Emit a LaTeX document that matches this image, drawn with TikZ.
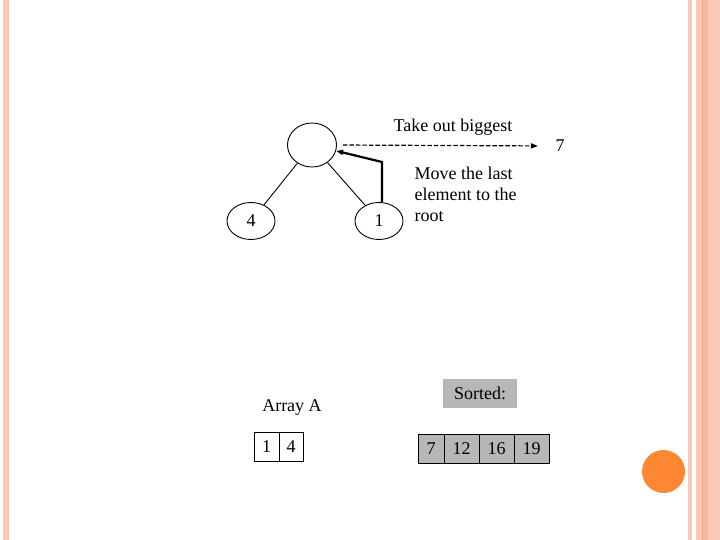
\documentclass[tikz,border=0pt]{standalone}
\usepackage{fontspec}
\setmainfont{Liberation Serif}
\usetikzlibrary{shapes.geometric,positioning,arrows.meta}
\definecolor{stripe}{RGB}{250,200,180}
\definecolor{stripedark}{RGB}{240,165,130}
\definecolor{dot}{RGB}{253,135,50}
\definecolor{cellgray}{RGB}{183,183,183}

\begin{document}
\begin{tikzpicture}[x=1pt,y=-1pt,
  every node/.style={font=\fontsize{18}{21}\selectfont},
  heapnode/.style={ellipse,draw,line width=0.9pt,inner sep=0pt},
  cell/.style={draw,line width=0.9pt,minimum height=29pt,inner sep=0pt,outer sep=0pt},
  edge/.style={line width=0.9pt},
  tip/.style={-{Triangle[length=7pt,width=5pt]}}]
\useasboundingbox (0,0) rectangle (720,540);

\fill[stripe] (3,0) rectangle (9,540);
\fill[stripe] (688,0) rectangle (692,540);
\fill[stripe] (696,0) rectangle (720,540);
\fill[stripedark!40!stripe] (702,0) rectangle (708,540);
\draw[stripedark,line width=0.7pt] (702,0) -- (702,540);
\fill[dot] (663.5,471.5) circle (21.5);

\node[heapnode,minimum width=49pt,minimum height=44pt] (root) at (312,145) {};
\node[heapnode,minimum width=48pt,minimum height=37pt] (four) at (251,221) {4};
\node[heapnode,minimum width=48pt,minimum height=37pt] (one) at (379,221) {1};
\draw[edge] (root) -- (four);
\draw[edge] (root) -- (one);

\node (take) at (453,127) {Take out biggest};
\node (seven) at (560,146) {7};
\draw[line width=1.2pt,dash pattern=on 4.5pt off 2pt,tip,shorten <=6pt,shorten >=14pt] (root.east) -- (seven.west);

\coordinate (bend) at (382,162);
\draw[line width=2.2pt,tip] (one.north -| bend) -- (bend) -- (root);
\node[align=left,anchor=west] (move) at (411,194) {Move the last\\element to the\\root};

\node (arrayA) at (292,407) {Array A};
\node[cell,minimum width=25pt] (a1) at (266.5,447) {1};
\node[cell,minimum width=24pt,right=0pt of a1] (a2) {4};

\node[fill=cellgray,minimum width=74pt,minimum height=29pt] (sorted) at (480,393.5) {Sorted:};
\node[cell,fill=cellgray,minimum width=26pt] (s1) at (431,448.5) {7};
\node[cell,fill=cellgray,minimum width=35pt,right=0pt of s1] (s2) {12};
\node[cell,fill=cellgray,minimum width=35pt,right=0pt of s2] (s3) {16};
\node[cell,fill=cellgray,minimum width=35pt,right=0pt of s3] (s4) {19};

\end{tikzpicture}
\end{document}
